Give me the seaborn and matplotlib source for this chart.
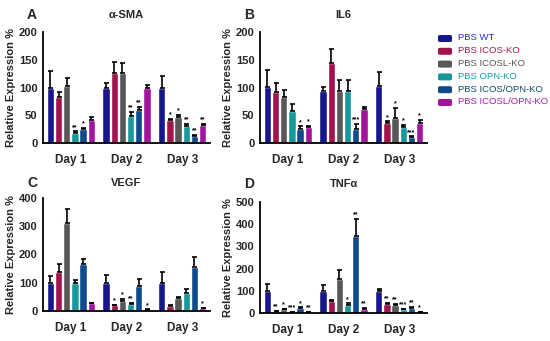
import matplotlib
matplotlib.use('Agg')
import matplotlib.pyplot as plt
import seaborn as sns
import pandas as pd
import numpy as np

sns.set_style("white")
plt.rcParams['font.family'] = ['Liberation Sans', 'DejaVu Sans']
plt.rcParams['font.weight'] = 'bold'

groups = ['PBS WT', 'PBS ICOS-KO', 'PBS ICOSL-KO', 'PBS OPN-KO',
          'PBS ICOS/OPN-KO', 'PBS ICOSL/OPN-KO']
days = ['Day 1', 'Day 2', 'Day 3']
barColors = ['#16168f', '#a3124c', '#575757', '#17999b', '#0e4a8c', '#a3149e']
textColors = ['#2a2ad8', '#b0144e', '#555555', '#1a9aa6', '#0e4a6a', '#b01ab0']

# values[day][group]
smaVals = [[100, 82, 103, 18, 25, 41], [100, 126, 126, 48, 60, 100], [100, 41, 46, 30, 12, 33]]
smaErr = [[30, 10, 14, 3, 2, 5], [8, 20, 18, 8, 5, 5], [20, 2, 5, 5, 2, 2]]
smaStars = [['', '', '', '**', '*', ''], ['', '', '', '**', '**', ''], ['', '*', '*', '**', '**', '**']]

il6Vals = [[101, 92, 82, 57, 25, 28], [93, 145, 94, 93, 26, 62], [103, 36, 45, 28, 10, 36]]
il6Err = [[30, 17, 14, 14, 5, 3], [8, 25, 20, 20, 8, 3], [25, 3, 18, 4, 2, 5]]
il6Stars = [['', '', '', '', '*', '*'], ['', '', '', '', '***', ''], ['', '*', '*', '*', '***', '*']]

vegfVals = [[100, 138, 312, 100, 168, 27], [100, 20, 37, 25, 88, 5], [100, 17, 45, 63, 155, 10]]
vegfErr = [[25, 28, 50, 10, 17, 3], [28, 3, 6, 4, 25, 1], [38, 3, 5, 15, 35, 2]]
vegfStars = [['', '', '', '', '', ''], ['', '*', '*', '**', '', '*'], ['', '', '', '', '', '*']]

tnfVals = [[100, 8, 17, 5, 22, 3], [100, 52, 155, 35, 345, 20], [100, 40, 37, 17, 23, 5]]
tnfErr = [[32, 2, 3, 1, 3, 1], [28, 5, 38, 8, 80, 3], [8, 4, 5, 3, 3, 1]]
tnfStars = [['', '**', '*', '***', '*', '**'], ['', '', '', '*', '**', '**'], ['', '**', '**', '***', '**', '*']]

# letter, title, values, errors, stars, ymax, ystep, axes box (px), title y (px)
panels = [
    ('A', '\u03b1-SMA', smaVals, smaErr, smaStars, 200, 50, [43, 32, 167, 111], 15),
    ('B', 'IL6', il6Vals, il6Err, il6Stars, 200, 50, [260, 32, 167, 111], 15),
    ('C', 'VEGF', vegfVals, vegfErr, vegfStars, 400, 100, [43, 198, 167, 113], 183),
    ('D', 'TNF\u03b1', tnfVals, tnfErr, tnfStars, 500, 100, [260, 202, 167, 111], 184),
]

W, H = 550, 341
fig = plt.figure(figsize=(5.5, 3.41), dpi=100)

for letter, title, vals, errs, stars, ymax, ystep, box, ty in panels:
    l, t, w, h = box
    ax = fig.add_axes([l / W, 1 - (t + h) / H, w / W, h / H])
    rows = []
    for di, d in enumerate(days):
        for gi, g in enumerate(groups):
            rows.append({'day': d, 'group': g, 'val': vals[di][gi]})
    df = pd.DataFrame(rows)
    sns.barplot(data=df, x='day', y='val', hue='group', hue_order=groups,
                palette=barColors, errorbar=None, width=0.88, gap=0.12,
                ax=ax, legend=False, saturation=1)
    bars = ax.patches
    # patches come ordered by hue, then by day
    for gi in range(len(groups)):
        for di in range(len(days)):
            p = bars[gi * len(days) + di]
            cx = p.get_x() + p.get_width() / 2
            v = vals[di][gi]
            e = errs[di][gi]
            ax.errorbar(cx, v, yerr=[[0], [e]], fmt='none', ecolor='black',
                        elinewidth=1.2, capsize=1.8, capthick=1.2, zorder=3)
            s = stars[di][gi]
            if s:
                ax.text(cx, v + e + ymax * 0.005, s, ha='center', va='bottom',
                        fontsize=5, fontweight='bold', color='black')
    ax.set_ylim(0, ymax)
    ax.set_yticks(np.arange(0, ymax + 1, ystep))
    ax.set_xlim(-0.5, 2.5)
    ax.set_xlabel('')
    ax.set_ylabel('Relative Expression %', fontsize=8, fontweight='bold')
    ax.yaxis.labelpad = 2
    for sp in ['top', 'right']:
        ax.spines[sp].set_visible(False)
    for sp in ['left', 'bottom']:
        ax.spines[sp].set_linewidth(1.3)
        ax.spines[sp].set_color('black')
    ax.tick_params(axis='y', direction='out', length=3, width=1.2, labelsize=8, pad=1)
    ax.tick_params(axis='x', direction='out', length=2, width=1, labelsize=8.5, pad=6)
    for lab in ax.get_xticklabels() + ax.get_yticklabels():
        lab.set_fontweight('bold')
    ycen = 1 + (t - ty) / h
    ax.text(0.5, ycen, title, transform=ax.transAxes, fontsize=8,
            fontweight='bold', ha='center', va='center')
    ax.text(-11 / w, ycen, letter, transform=ax.transAxes, fontsize=10,
            fontweight='bold', ha='center', va='center')

# legend
for gi, g in enumerate(groups):
    y = 38 + gi * 12.8
    fig.patches.append(matplotlib.patches.FancyBboxPatch(
        ((438) / W, 1 - (y + 4) / H), 14 / W, 7 / H,
        boxstyle='round,pad=0,rounding_size=0.004', transform=fig.transFigure,
        facecolor=barColors[gi], edgecolor='none'))
    fig.text(458 / W, 1 - y / H, g, fontsize=6.8, color=textColors[gi],
             ha='left', va='center', fontweight='normal')

fig.savefig('out.png', dpi=100)
